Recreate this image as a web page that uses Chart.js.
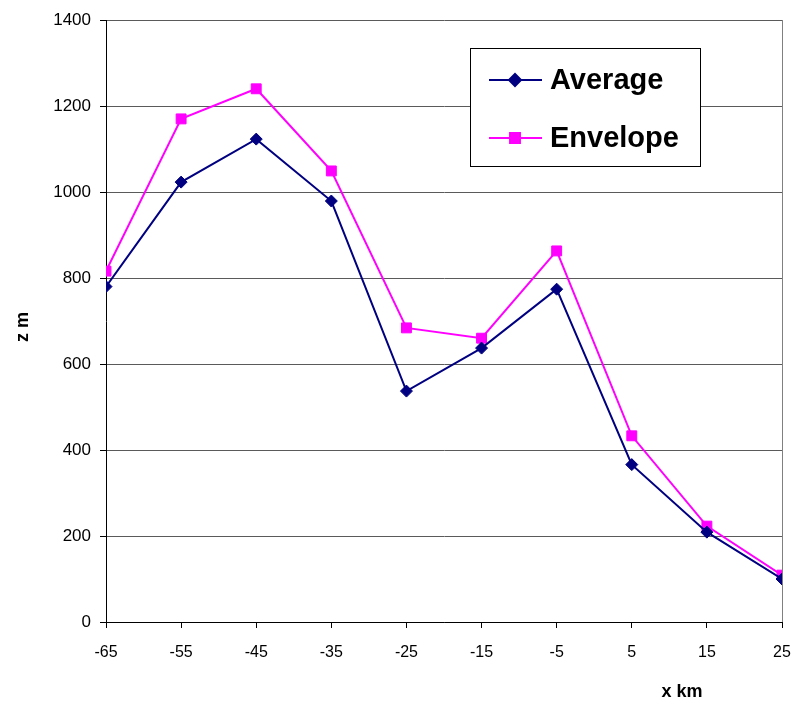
<!DOCTYPE html>
<html>
<head>
<meta charset="utf-8">
<script src="https://cdn.jsdelivr.net/npm/chart.js@4.4.1/dist/chart.umd.min.js"></script>
<style>
  html, body { margin: 0; padding: 0; background: #ffffff; }
  #wrap { width: 796px; height: 702px; position: relative; }
</style>
</head>
<body>
<div id="wrap"><canvas id="c" width="796" height="702"></canvas></div>
<script>
const xValues = [-65, -55, -45, -35, -25, -15, -5, 5, 15, 25];
const averageValues = [780, 1023, 1123, 979, 537, 637, 774, 366, 209, 100];
const envelopeValues = [816, 1170, 1240, 1049, 684, 660, 863, 433, 223, 109];
const seriesNames = ['Average', 'Envelope'];
const xTitle = 'x km';
const yTitle = 'z m';

const toPoints = (vals) => vals.map((v, i) => ({ x: xValues[i], y: v }));

const FONT = "'Liberation Sans', Arial, sans-serif";

const overlay = {
  id: 'overlay',
  afterDraw(chart) {
    const ctx = chart.ctx;
    const a = chart.chartArea;
    ctx.save();
    // plot area right border
    ctx.strokeStyle = '#808080';
    ctx.lineWidth = 1;
    ctx.beginPath();
    ctx.moveTo(Math.round(a.right) + 0.5, a.top);
    ctx.lineTo(Math.round(a.right) + 0.5, a.bottom);
    ctx.stroke();

    // axis titles
    ctx.fillStyle = '#000';
    ctx.font = 'bold 18px ' + FONT;
    ctx.textAlign = 'center';
    ctx.textBaseline = 'middle';
    ctx.fillText(xTitle, a.right - 100, 692);
    ctx.save();
    ctx.translate(23, a.top + 307);
    ctx.rotate(-Math.PI / 2);
    ctx.fillText(yTitle, 0, 0);
    ctx.restore();

    // legend
    const bx = 470.5, by = 48.5, bw = 230, bh = 118;
    ctx.fillStyle = '#fff';
    ctx.fillRect(bx, by, bw, bh);
    ctx.strokeStyle = '#000';
    ctx.lineWidth = 1;
    ctx.strokeRect(bx, by, bw, bh);
    const rows = [80, 138];
    chart.data.datasets.forEach((ds, i) => {
      const y = rows[i];
      ctx.strokeStyle = ds.borderColor;
      ctx.lineWidth = 2;
      ctx.beginPath();
      ctx.moveTo(489, y);
      ctx.lineTo(542, y);
      ctx.stroke();
      Chart.helpers.drawPoint(ctx, {
        pointStyle: ds.pointStyle,
        radius: ds.pointRadius,
        borderWidth: 1,
      }, 515, y);
      ctx.fillStyle = ds.pointBackgroundColor;
      ctx.strokeStyle = ds.pointBorderColor;
      ctx.fill();
      ctx.fillStyle = '#000';
      ctx.font = 'bold 29px ' + FONT;
      ctx.textAlign = 'left';
      ctx.textBaseline = 'middle';
      ctx.fillText(ds.label, 550, y + 1);
    });
    ctx.restore();
  }
};

new Chart(document.getElementById('c'), {
  type: 'line',
  data: {
    datasets: [
      {
        label: seriesNames[0],
        data: toPoints(averageValues),
        borderColor: '#000080',
        backgroundColor: '#000080',
        pointBackgroundColor: '#000080',
        pointBorderColor: '#000080',
        pointStyle: 'rectRot',
        pointRadius: 6,
        pointBorderWidth: 1,
        borderWidth: 2,
        tension: 0,
        fill: false
      },
      {
        label: seriesNames[1],
        data: toPoints(envelopeValues),
        borderColor: '#FF00FF',
        backgroundColor: '#FF00FF',
        pointBackgroundColor: '#FF00FF',
        pointBorderColor: '#FF00FF',
        pointStyle: 'rect',
        pointRadius: 7,
        pointBorderWidth: 1,
        borderWidth: 2,
        tension: 0,
        fill: false
      }
    ]
  },
  options: {
    responsive: false,
    animation: false,
    devicePixelRatio: 1,
    layout: { padding: { top: 20, right: 14, left: 0, bottom: 0 } },
    plugins: {
      legend: { display: false },
      tooltip: { enabled: false },
      title: { display: false }
    },
    scales: {
      x: {
        type: 'linear',
        min: -65,
        max: 25,
        afterFit(scale) {
          scale.height = 80;
          scale.paddingLeft = 0;
          scale.paddingRight = 0;
        },
        afterBuildTicks(scale) { scale.ticks = xValues.map(v => ({ value: v })); },
        ticks: {
          stepSize: 10,
          color: '#000',
          font: { family: FONT, size: 16 },
          padding: 15,
          maxRotation: 0,
          autoSkip: false,
          callback: (v) => String(v)
        },
        grid: {
          drawOnChartArea: false,
          drawTicks: true,
          tickLength: 6,
          tickColor: '#000',
          color: '#000'
        },
        border: { display: true, color: '#000', width: 1 }
      },
      y: {
        type: 'linear',
        min: 0,
        max: 1400,
        afterFit(scale) {
          scale.width = 106;
          scale.paddingTop = 0;
          scale.paddingBottom = 0;
        },
        ticks: {
          stepSize: 200,
          color: '#000',
          font: { family: FONT, size: 17 },
          padding: 9,
          callback: (v) => String(v)
        },
        grid: {
          drawOnChartArea: true,
          drawTicks: true,
          tickLength: 6,
          tickColor: '#000',
          color: '#5a5a5a',
          lineWidth: 1
        },
        border: { display: true, color: '#000', width: 1 }
      }
    }
  },
  plugins: [overlay]
});
</script>
</body>
</html>
